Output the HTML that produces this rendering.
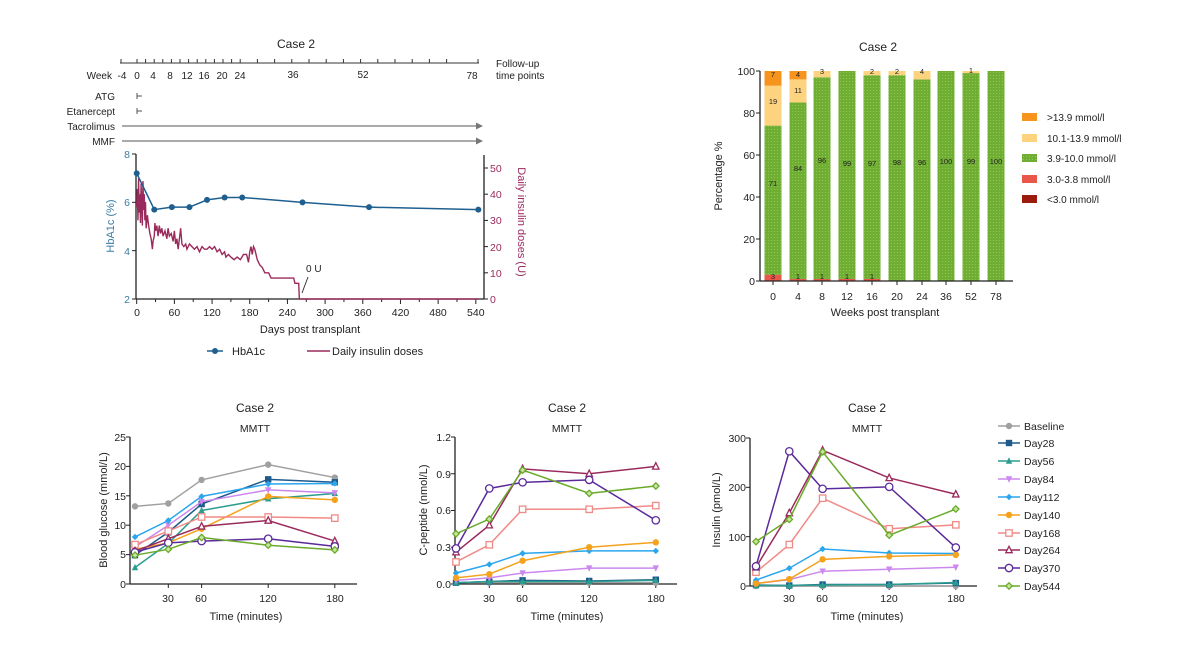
<!DOCTYPE html>
<html><head><meta charset="utf-8"><style>
html,body{margin:0;padding:0;background:#fff;}
svg{display:block;font-family:"Liberation Sans",Arial,sans-serif;}
text{fill:#222;}
</style></head><body>
<svg id="s" width="1200" height="647" viewBox="0 0 1200 647" xmlns="http://www.w3.org/2000/svg">
<defs>
<pattern id="gp" width="3" height="3" patternUnits="userSpaceOnUse">
<rect width="3" height="3" fill="#6fae33"/><rect width="1" height="1" fill="#8cc852"/>
</pattern>
</defs>
<!-- ============ TOP LEFT ============ -->
<text x="296" y="48" font-size="12" text-anchor="middle">Case 2</text>
<g font-size="10">
<text x="112" y="79" text-anchor="end">Week</text>
<text x="122" y="79" text-anchor="middle">-4</text><text x="137" y="79" text-anchor="middle">0</text>
<text x="153" y="79" text-anchor="middle">4</text><text x="170" y="79" text-anchor="middle">8</text>
<text x="187" y="79" text-anchor="middle">12</text><text x="204" y="79" text-anchor="middle">16</text>
<text x="222" y="79" text-anchor="middle">20</text><text x="240" y="79" text-anchor="middle">24</text>
<text x="293" y="78" text-anchor="middle">36</text><text x="363" y="78" text-anchor="middle">52</text>
<text x="472" y="79" text-anchor="middle">78</text>
<text x="496" y="67">Follow-up</text><text x="496" y="79">time points</text>
<text x="115" y="100" text-anchor="end">ATG</text>
<text x="115" y="115" text-anchor="end">Etanercept</text>
<text x="115" y="130" text-anchor="end">Tacrolimus</text>
<text x="115" y="145" text-anchor="end">MMF</text>
</g>
<g id="tl"></g>
<g font-size="10.5">
<text x="130" y="158" text-anchor="end" style="fill:#3a7ca5">8</text>
<text x="130" y="206" text-anchor="end" style="fill:#3a7ca5">6</text>
<text x="130" y="255" text-anchor="end" style="fill:#3a7ca5">4</text>
<text x="130" y="303" text-anchor="end" style="fill:#3a7ca5">2</text>
<text x="490" y="303" style="fill:#9b2a5c">0</text>
<text x="490" y="277" style="fill:#9b2a5c">10</text>
<text x="490" y="251" style="fill:#9b2a5c">20</text>
<text x="490" y="224" style="fill:#9b2a5c">30</text>
<text x="490" y="198" style="fill:#9b2a5c">40</text>
<text x="490" y="172" style="fill:#9b2a5c">50</text>
</g>
<text transform="translate(114,226) rotate(-90)" font-size="11" text-anchor="middle" style="fill:#3a7ca5">HbA1c (%)</text>
<text transform="translate(518,222) rotate(90)" font-size="11" text-anchor="middle" style="fill:#9b2a5c">Daily insulin doses (U)</text>
<g font-size="10.5" text-anchor="middle">
<text x="137" y="316">0</text><text x="174.4" y="316">60</text><text x="212" y="316">120</text>
<text x="249.7" y="316">180</text><text x="287.4" y="316">240</text><text x="325" y="316">300</text>
<text x="362.8" y="316">360</text><text x="400.5" y="316">420</text><text x="438" y="316">480</text>
<text x="475.8" y="316">540</text>
</g>
<text x="310" y="333" font-size="11" text-anchor="middle">Days post transplant</text>
<text x="306" y="272" font-size="10">0 U</text>
<line x1="302" y1="293" x2="308" y2="277" stroke="#333" stroke-width="1"/>
<line x1="207" y1="351" x2="223" y2="351" stroke="#1f5f8f" stroke-width="1.5"/><circle cx="215" cy="351" r="3" fill="#1f5f8f"/>
<text x="232" y="355" font-size="11">HbA1c</text>
<line x1="307" y1="351" x2="330" y2="351" stroke="#9b2a5c" stroke-width="1.5"/>
<text x="332" y="355" font-size="11">Daily insulin doses</text>

<!-- ============ TOP RIGHT ============ -->
<text x="878" y="51" font-size="12" text-anchor="middle">Case 2</text>
<g id="tr"></g>
<g font-size="10.5" text-anchor="end">
<text x="755" y="75">100</text><text x="755" y="117">80</text><text x="755" y="159">60</text>
<text x="755" y="201">40</text><text x="755" y="243">20</text><text x="755" y="285">0</text>
</g>
<text transform="translate(722,176) rotate(-90)" font-size="11" text-anchor="middle">Percentage %</text>
<g font-size="10.5" text-anchor="middle">
<text x="773" y="300">0</text><text x="798" y="300">4</text><text x="822" y="300">8</text>
<text x="847" y="300">12</text><text x="872" y="300">16</text><text x="897" y="300">20</text>
<text x="922" y="300">24</text><text x="946" y="300">36</text><text x="971" y="300">52</text>
<text x="996" y="300">78</text>
</g>
<text x="885" y="316" font-size="11" text-anchor="middle">Weeks post transplant</text>
<g font-size="7.5" text-anchor="middle">
<text x="773" y="77">7</text><text x="798" y="77">4</text><text x="822" y="74">3</text>
<text x="872" y="74">2</text><text x="897" y="74">2</text><text x="922" y="74">4</text><text x="971" y="73">1</text>
<text x="773" y="104">19</text><text x="798" y="93">11</text>
<text x="773" y="186">71</text><text x="798" y="171">84</text><text x="822" y="163">96</text>
<text x="847" y="166">99</text><text x="872" y="166">97</text><text x="897" y="165">98</text>
<text x="922" y="165">96</text><text x="946" y="164">100</text><text x="971" y="164">99</text><text x="996" y="164">100</text>
<text x="773" y="279">3</text><text x="798" y="279">1</text><text x="822" y="279">1</text>
<text x="847" y="279">1</text><text x="872" y="279">1</text>
</g>
<rect x="1022" y="113" width="15" height="8" fill="#f7941d"/>
<rect x="1022" y="134" width="15" height="8" fill="#fdd37f"/>
<rect x="1022" y="154" width="15" height="8" fill="url(#gp)"/>
<rect x="1022" y="175" width="15" height="8" fill="#e8574a"/>
<rect x="1022" y="195" width="15" height="8" fill="#9b1b0c"/>
<g font-size="10">
<text x="1047" y="121">&gt;13.9 mmol/l</text>
<text x="1047" y="142">10.1-13.9 mmol/l</text>
<text x="1047" y="162">3.9-10.0 mmol/l</text>
<text x="1047" y="183">3.0-3.8 mmol/l</text>
<text x="1047" y="203">&lt;3.0  mmol/l</text>
</g>

<!-- ============ BOTTOM ============ -->
<g font-size="12" text-anchor="middle">
<text x="255" y="412">Case 2</text><text x="567" y="412">Case 2</text><text x="867" y="412">Case 2</text>
</g>
<g font-size="10.5" text-anchor="middle">
<text x="255" y="432">MMTT</text><text x="567" y="432">MMTT</text><text x="867" y="432">MMTT</text>
</g>
<g id="bt"></g>
<g font-size="10.5" text-anchor="end">
<text x="126" y="441">25</text><text x="126" y="470">20</text><text x="126" y="500">15</text>
<text x="126" y="529">10</text><text x="126" y="558">5</text><text x="126" y="588">0</text>
<text x="451" y="441">1.2</text><text x="451" y="478">0.9</text><text x="451" y="514">0.6</text>
<text x="451" y="551">0.3</text><text x="451" y="588">0.0</text>
<text x="746" y="442">300</text><text x="746" y="491">200</text><text x="746" y="541">100</text>
<text x="746" y="590">0</text>
</g>
<g font-size="10.5" text-anchor="middle">
<text x="168" y="602">30</text><text x="201" y="602">60</text><text x="268" y="602">120</text><text x="335" y="602">180</text>
<text x="489" y="602">30</text><text x="522" y="602">60</text><text x="589" y="602">120</text><text x="656" y="602">180</text>
<text x="789" y="602">30</text><text x="822" y="602">60</text><text x="889" y="602">120</text><text x="956" y="602">180</text>
</g>
<g font-size="11" text-anchor="middle">
<text x="246" y="620">Time (minutes)</text><text x="567" y="620">Time (minutes)</text><text x="867" y="620">Time (minutes)</text>
</g>
<text transform="translate(107,510) rotate(-90)" font-size="11" text-anchor="middle">Blood glucose (mmol/L)</text>
<text transform="translate(427,510) rotate(-90)" font-size="11" text-anchor="middle">C-peptide (nmol/L)</text>
<text transform="translate(720,510) rotate(-90)" font-size="11" text-anchor="middle">Insulin (pmol/L)</text>
<g font-size="10.5">
<text x="1024" y="430">Baseline</text><text x="1024" y="447">Day28</text><text x="1024" y="465">Day56</text>
<text x="1024" y="483">Day84</text><text x="1024" y="501">Day112</text><text x="1024" y="519">Day140</text>
<text x="1024" y="537">Day168</text><text x="1024" y="554">Day264</text><text x="1024" y="572">Day370</text>
<text x="1024" y="590">Day544</text>
</g>
</svg>
<script>
var NS="http://www.w3.org/2000/svg";
function el(p,t,a){var e=document.createElementNS(NS,t);for(var k in a)e.setAttribute(k,a[k]);p.appendChild(e);return e;}
// top left
var tl=document.getElementById('tl');
var g={stroke:'#333','stroke-width':1};
el(tl,'line',{x1:120,y1:63,x2:479,y2:63,stroke:'#333'});
[-4,0,2,4,6,8,10,12,14,16,18,20,22,24,28,32,36,40,44,48,52,56,60,64,68,72,78].forEach(function(w){var x=137+w*4.3;if(w==-4)x=121;if(w==78)x=478;el(tl,'line',{x1:x,y1:59,x2:x,y2:63,stroke:'#333'});});
el(tl,'path',{d:'M137 96 h5 M137 93 v6 M137 111 h5 M137 108 v6',stroke:'#555',fill:'none'});
[126,141].forEach(function(y){el(tl,'line',{x1:122,y1:y,x2:476,y2:y,stroke:'#777','stroke-width':1.3});el(tl,'path',{d:'M476 '+(y-3.5)+' L483 '+y+' L476 '+(y+3.5)+'Z',fill:'#777'});});
function dx(d){return 136.7+d*0.628;}
function hy(v){return 299-(v-2)*24.17;}
function uy(v){return 299-v*2.62;}
el(tl,'line',{x1:136,y1:154,x2:136,y2:299,stroke:'#222','stroke-width':1.3});
el(tl,'line',{x1:484,y1:155,x2:484,y2:299,stroke:'#222','stroke-width':1.3});
el(tl,'line',{x1:136,y1:299,x2:484,y2:299,stroke:'#222','stroke-width':1.3});
[8,6,4,2].forEach(function(v){el(tl,'line',{x1:132,y1:hy(v),x2:136,y2:hy(v),stroke:'#222'});});
[0,10,20,30,40,50].forEach(function(v){el(tl,'line',{x1:484,y1:uy(v),x2:488,y2:uy(v),stroke:'#222'});});
for(var d=0;d<=540;d+=30)el(tl,'line',{x1:dx(d),y1:299,x2:dx(d),y2:(d%60?302:304),stroke:'#222'});
var ins=[[0,35],[1,42],[2,30],[3,46],[4,33],[5,40],[6,29],[7,44],[8,36],[9,28],[10,45],[11,34],[12,40],[13,30],[14,37],[15,27],[17,32],[19,28],[21,25],[23,23],[25,19],[26,22],[28,24],[29,29],[30,26],[32,28],[34,24],[36,28],[38,25],[40,27],[42,24],[45,26],[48,23],[50,27],[52,24],[55,25],[58,22],[60,26],[62,21],[64,23],[66,19],[70,27],[72,21],[75,20],[78,21],[80,19],[84,21],[88,20],[92,19],[96,20],[100,18],[104,20],[108,19],[112,19],[116,20],[120,19],[124,20],[128,18],[132,19],[136,17],[140,18],[142,16],[146,17],[150,16],[155,15],[160,16],[165,15],[170,17],[175,17],[178,14],[180,18],[182,20],[184,17],[186,20],[188,19],[190,17],[192,15],[196,13],[200,12],[204,10],[210,10],[214,8],[250,8],[252,6],[258,6],[259,0],[544,0]];
el(tl,'polyline',{points:ins.map(function(p){return dx(p[0])+','+uy(p[1]);}).join(' '),fill:'none',stroke:'#9b2a5c','stroke-width':1.4});
var hb=[[0,7.2],[28,5.7],[56,5.8],[84,5.8],[112,6.1],[140,6.2],[168,6.2],[264,6.0],[370,5.8],[544,5.7]];
el(tl,'polyline',{points:hb.map(function(p){return dx(p[0])+','+hy(p[1]);}).join(' '),fill:'none',stroke:'#1f5f8f','stroke-width':1.5});
hb.forEach(function(p){el(tl,'circle',{cx:dx(p[0]),cy:hy(p[1]),r:3,fill:'#1f5f8f'});});
// top right
var tr=document.getElementById('tr');
function py(p){return 281-2.1*p;}
var cols=['#9b1b0c','#e8574a','url(#gp)','#fdd37f','#f7941d'];
var bars=[[0,3,71,19,7],[0,1,84,11,4],[0,1,96,3,0],[0,1,99,0,0],[0,1,97,2,0],[0,0,98,2,0],[0,0,96,4,0],[0,0,100,0,0],[0,0,99,1,0],[0,0,100,0,0]];
var bx=[773,798,822,847,872,897,922,946,971,996];
bars.forEach(function(b,i){var c=0;b.forEach(function(v,j){if(v>0){el(tr,'rect',{x:bx[i]-8.5,y:py(c+v),width:17,height:2.1*v,fill:cols[j]});}c+=v;});});
el(tr,'line',{x1:760,y1:71,x2:760,y2:281,stroke:'#222','stroke-width':1.3});
el(tr,'line',{x1:760,y1:281,x2:1013,y2:281,stroke:'#222','stroke-width':1.3});
[0,20,40,60,80,100].forEach(function(v){el(tr,'line',{x1:756,y1:py(v),x2:760,y2:py(v),stroke:'#222'});});
bx.forEach(function(x){el(tr,'line',{x1:x,y1:281,x2:x,y2:285,stroke:'#222'});});
// bottom
var bt=document.getElementById('bt');
var ser=[{c:'#a0a0a0',m:'circ'},{c:'#1f5a8c',m:'sq'},{c:'#2a9d8f',m:'tri'},{c:'#cc88ee',m:'dtri'},{c:'#2aa6ee',m:'dia'},{c:'#f5a21d',m:'circ'},{c:'#f08a86',m:'osq'},{c:'#9b2a5c',m:'otri'},{c:'#5a2a9a',m:'ocirc'},{c:'#6aaa2a',m:'odia'}];
function marker(p,x,y,s,k){var c=s.c,m=s.m,r=k||3.2;
 if(m=='circ')el(p,'circle',{cx:x,cy:y,r:r,fill:c});
 else if(m=='sq')el(p,'rect',{x:x-r,y:y-r,width:2*r,height:2*r,fill:c});
 else if(m=='tri')el(p,'path',{d:'M'+x+' '+(y-r-0.5)+' L'+(x+r)+' '+(y+r-0.5)+' L'+(x-r)+' '+(y+r-0.5)+'Z',fill:c});
 else if(m=='dtri')el(p,'path',{d:'M'+x+' '+(y+r+0.5)+' L'+(x+r)+' '+(y-r+0.5)+' L'+(x-r)+' '+(y-r+0.5)+'Z',fill:c});
 else if(m=='dia')el(p,'path',{d:'M'+x+' '+(y-r)+' L'+(x+r)+' '+y+' L'+x+' '+(y+r)+' L'+(x-r)+' '+y+'Z',fill:c});
 else if(m=='osq')el(p,'rect',{x:x-r,y:y-r,width:2*r,height:2*r,fill:'#fff',stroke:c,'stroke-width':1.3});
 else if(m=='otri')el(p,'path',{d:'M'+x+' '+(y-r-0.5)+' L'+(x+r)+' '+(y+r-0.5)+' L'+(x-r)+' '+(y+r-0.5)+'Z',fill:'#fff',stroke:c,'stroke-width':1.3});
 else if(m=='ocirc')el(p,'circle',{cx:x,cy:y,r:r+0.5,fill:'#fff',stroke:c,'stroke-width':1.3});
 else if(m=='odia')el(p,'path',{d:'M'+x+' '+(y-r)+' L'+(x+r)+' '+y+' L'+x+' '+(y+r)+' L'+(x-r)+' '+y+'Z',fill:'#c8e6a0',stroke:c,'stroke-width':1.3});
}
var T=[0,30,60,120,180];
function panel(x0,axX,axEnd,yTop,yBot,max,ticks,data){
 el(bt,'line',{x1:axX,y1:yTop,x2:axX,y2:yBot,stroke:'#222','stroke-width':1.3});
 el(bt,'line',{x1:axX,y1:yBot,x2:axEnd,y2:yBot,stroke:'#222','stroke-width':1.3});
 ticks.forEach(function(v){var y=yBot-(yBot-yTop)*v/max;el(bt,'line',{x1:axX-4,y1:y,x2:axX,y2:y,stroke:'#222'});});
 [30,60,120,180].forEach(function(t){var x=x0+t*1.11;el(bt,'line',{x1:x,y1:yBot,x2:x,y2:yBot+4,stroke:'#222'});});
 data.forEach(function(d,i){var pts=d.map(function(v,j){return [x0+T[j]*1.11,yBot-(yBot-yTop)*v/max];});
  el(bt,'polyline',{points:pts.map(function(p){return p.join(',');}).join(' '),fill:'none',stroke:ser[i].c,'stroke-width':1.5});
  pts.forEach(function(p){marker(bt,p[0],p[1],ser[i]);});});
}
panel(135,130,357,437,584,25,[0,5,10,15,20,25],[[13.2,13.7,17.7,20.3,18.1],[4.9,8.8,13.6,17.8,17.3],[2.8,6.9,12.5,14.5,15.4],[6.3,10,14,16,15.5],[8,10.8,14.9,17,17.1],[5.9,7,9.4,14.9,14.3],[6.7,9,11.4,11.4,11.2],[5.6,7.7,9.8,10.8,7.3],[5.4,7,7.3,7.7,6.4],[4.9,5.9,7.9,6.6,5.8]]);
panel(456,455,677,437,584,1.2,[0,0.3,0.6,0.9,1.2],[[0.01,0.01,0.01,0.01,0.01],[0.01,0.02,0.03,0.025,0.035],[0.01,0.02,0.02,0.02,0.03],[0.03,0.05,0.09,0.13,0.13],[0.09,0.16,0.25,0.27,0.27],[0.05,0.08,0.19,0.30,0.34],[0.18,0.32,0.61,0.61,0.64],[0.26,0.48,0.94,0.90,0.96],[0.29,0.78,0.83,0.85,0.52],[0.41,0.53,0.93,0.74,0.80]]);
panel(756,750,977,438,586,300,[0,100,200,300],[[0,0,0,0,0],[2,1,3,3,6],[1,1,2,3,7],[5,13,30,34,38],[12,36,75,67,66],[5,14,54,60,63],[28,84,178,116,124],[38,148,275,219,186],[40,273,197,201,78],[90,135,272,103,156]]);
var ly=[426,443,461,479,497,515,533,550,568,586];
ser.forEach(function(s,i){el(bt,'line',{x1:998,y1:ly[i],x2:1020,y2:ly[i],stroke:s.c,'stroke-width':1.5});marker(bt,1009,ly[i],s);});
</script>
</body></html>
